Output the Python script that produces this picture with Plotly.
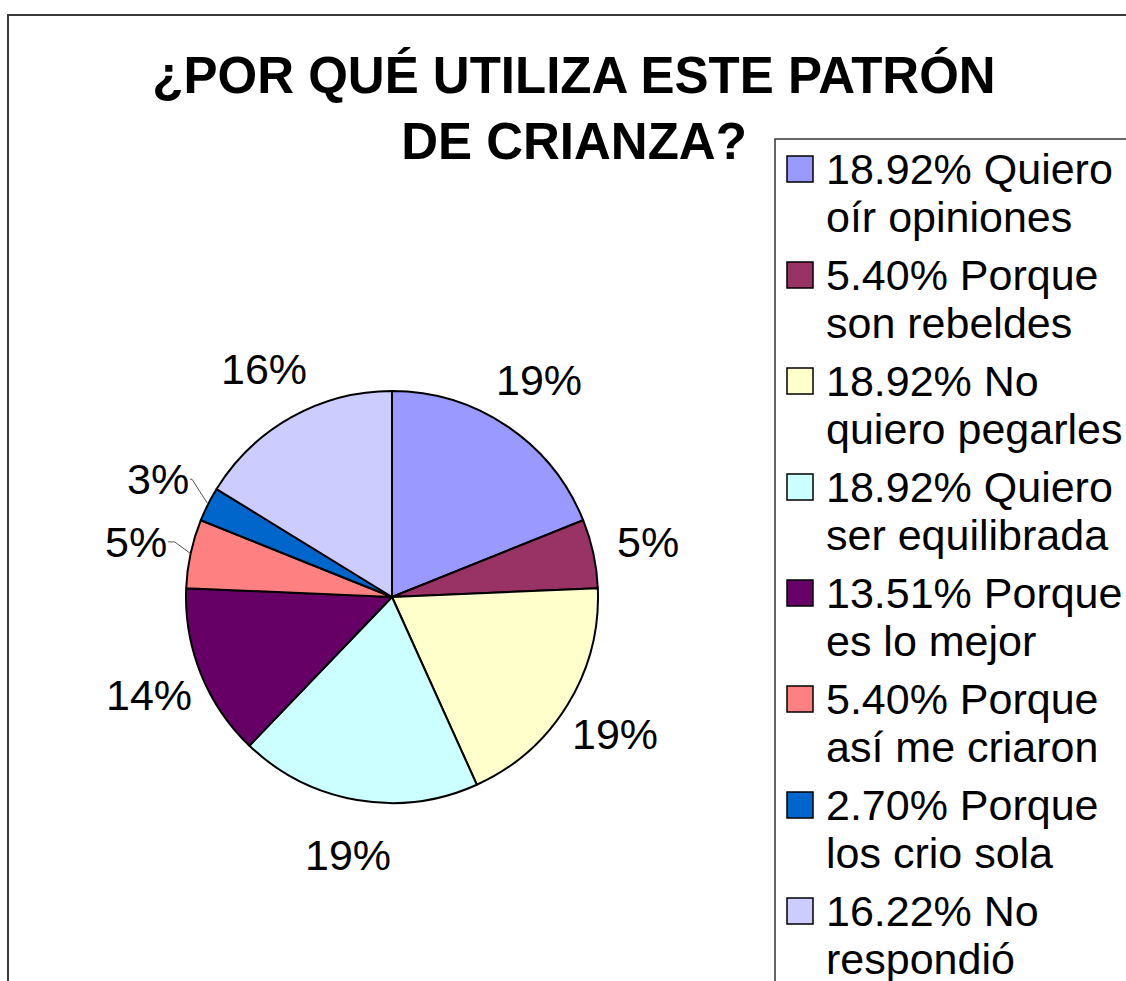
import math

import plotly.graph_objects as go

# data
categories = [
    "Quiero oír opiniones",
    "Porque son rebeldes",
    "No quiero pegarles",
    "Quiero ser equilibrada",
    "Porque es lo mejor",
    "Porque así me criaron",
    "Porque los crio sola",
    "No respondió",
]
percents = [18.92, 5.40, 18.92, 18.92, 13.51, 5.40, 2.70, 16.22]
pct_labels = ["18.92%", "5.40%", "18.92%", "18.92%", "13.51%", "5.40%", "2.70%", "16.22%"]
colors = ["#9999FF", "#993366", "#FFFFCC", "#CCFFFF", "#660066", "#FF8080", "#0066CC", "#CCCCFF"]

TITLE = "¿POR QUÉ UTILIZA ESTE PATRÓN<br>DE CRIANZA?"
FONT = "Liberation Sans, Arial, sans-serif"

# page geometry (pixels); body margin is removed so the figure fills the window
W, H = 1126, 981
cx, cy, rad = 392, 597, 206
label_r = 1.27 * rad


def px(x):
    return x / W


def py(y):
    return 1 - y / H


fig = go.Figure()

fig.add_trace(
    go.Pie(
        labels=categories,
        values=percents,
        sort=False,
        direction="clockwise",
        rotation=0,
        textinfo="none",
        hoverinfo="label+percent",
        marker=dict(colors=colors, line=dict(color="black", width=2)),
        domain=dict(x=[px(cx - rad), px(cx + rad)], y=[py(cy + rad), py(cy - rad)]),
        showlegend=False,
    )
)

annotations = []
shapes = []

# outer chart border and legend box (run off the right/bottom edges)
shapes.append(dict(type="rect", xref="paper", yref="paper",
                   x0=px(8), y0=py(15), x1=px(W + 40), y1=py(H + 40),
                   line=dict(color="#3a3a3a", width=2)))
shapes.append(dict(type="rect", xref="paper", yref="paper",
                   x0=px(775), y0=py(139), x1=px(W + 40), y1=py(H + 40),
                   line=dict(color="#333333", width=1.5)))

# slice labels, placed on the mid angle of each slice
total = sum(percents)
cum = 0.0
for i, v in enumerate(percents):
    mid = (cum + v / 2) / total * 2 * math.pi
    cum += v
    s, c = math.sin(mid), math.cos(mid)
    lx, ly = cx + label_r * s, cy - label_r * c
    text = f"{round(v)}%"
    annotations.append(dict(x=px(lx), y=py(ly), xref="paper", yref="paper",
                            text=text, showarrow=False,
                            xanchor="center", yanchor="middle",
                            font=dict(size=43, color="black", family=FONT)))
    # leader lines for the small slices on the left side
    if v < 6 and s < 0:
        ex, ey = cx + rad * s, cy - rad * c
        half_w = 0.3 * 43 * len(text)
        end_x = lx + half_w + 6
        elbow_x = ex - 16
        path = (f"M {px(ex)},{py(ey)} L {px(elbow_x)},{py(ly)} "
                f"L {px(end_x)},{py(ly)}")
        shapes.append(dict(type="path", xref="paper", yref="paper", path=path,
                           line=dict(color="#555555", width=1)))

# legend, one square and two text lines per item
leg_top, leg_step, line_gap = 169, 106, 48
for i, (cat, pct, col) in enumerate(zip(categories, pct_labels, colors)):
    first, rest = cat.split(" ", 1)
    yc = leg_top + i * leg_step
    shapes.append(dict(type="rect", xref="paper", yref="paper",
                       x0=px(787), x1=px(813), y0=py(yc - 13), y1=py(yc + 13),
                       fillcolor=col, line=dict(color="black", width=1.5)))
    for j, line in enumerate([f"{pct} {first}", rest]):
        annotations.append(dict(x=px(824), y=py(yc + j * line_gap), xref="paper", yref="paper",
                                text=line, showarrow=False,
                                xanchor="left", yanchor="middle",
                                font=dict(size=43, color="black", family=FONT)))

fig.update_layout(
    title=dict(
        text=TITLE,
        x=px(574),
        xanchor="center",
        y=py(93),
        yanchor="top",
        font=dict(size=51, color="black", family=FONT, weight="bold"),
    ),
    width=W,
    height=H,
    margin={"l": 0, "r": 0, "t": 0, "b": 0},
    paper_bgcolor="white",
    plot_bgcolor="white",
    annotations=annotations,
    shapes=shapes,
    font=dict(family=FONT),
)

fig.write_html(
    "out.html",
    config={"displayModeBar": False},
    post_script="document.body.style.margin='0';document.body.style.overflow='hidden';",
)
